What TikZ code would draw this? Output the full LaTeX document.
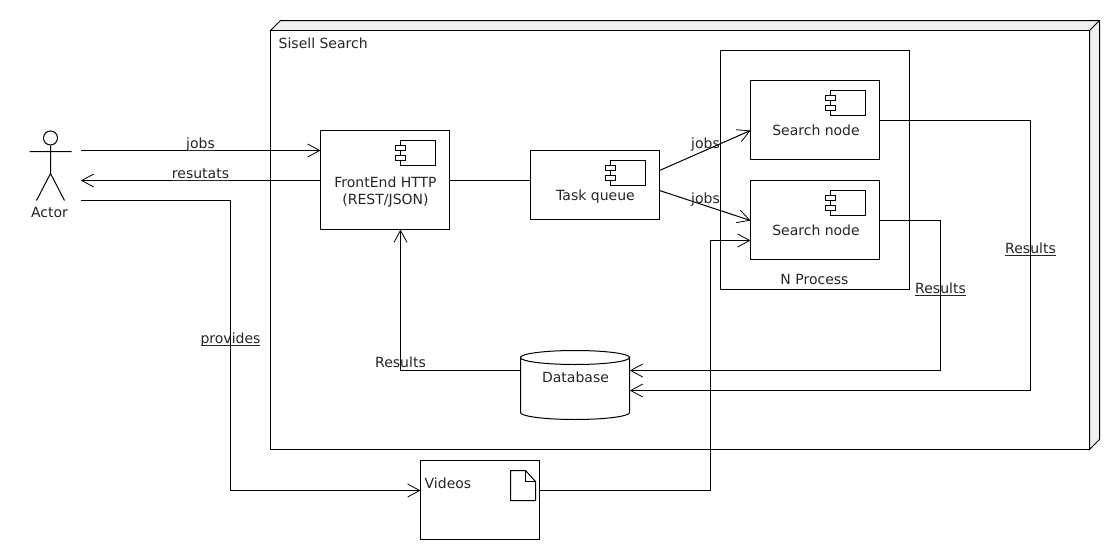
\documentclass[tikz,border=0pt]{standalone}
\usepackage{fontspec}
\setmainfont{DejaVu Sans}
\usetikzlibrary{arrows.meta,calc,shapes.geometric}
\newcommand{\ulbl}[1]{\underline{\smash{#1}}}
\tikzset{
  box/.style={draw=black,fill=white,line width=1pt,anchor=north west,inner sep=0pt,outer sep=0pt},
  txt/.style={inner sep=0pt,font=\fontsize{14}{16.5}\selectfont,align=center,text=black!85},
  wire/.style={draw=black,line width=1pt},
  flow/.style={wire,-{Straight Barb[length=12pt,width=13pt,line width=0.8pt]}},
  component icon/.pic={
    \draw[fill=white,line width=1pt] (-49,10) rectangle (-14,35);
    \draw[fill=white,line width=1pt] (-54,15) rectangle (-44,20);
    \draw[fill=white,line width=1pt] (-54,25) rectangle (-44,30);
  }
}
\begin{document}
\begin{tikzpicture}[x=1pt,y=-1pt,shift={(0.5pt,-0.5pt)}]
\useasboundingbox (-0.5,-0.5) rectangle (1119.5,559.5);
\fill[white] (-0.5,-0.5) rectangle (1119.5,559.5);
% deployment node
\draw[fill=black!6,line width=1pt] (270,30) -- (280,20) -- (1099,20) -- (1099,439) -- (1089,449) -- (1089,30) -- cycle;
\draw[line width=1pt] (1089,30) -- (1099,20);
\node[box,minimum width=819pt,minimum height=419pt] (search) at (270,30) {};
\node[txt,anchor=base west] (searchlabel) at (278,48) {Sisell Search};
% N Process
\node[box,minimum width=189pt,minimum height=239pt] (nproc) at (720,50) {};
\node[txt,anchor=base] (nproclabel) at (814,284) {N Process};
% Components
\node[box,minimum width=129pt,minimum height=99pt] (fe) at (320,130) {};
\pic at (fe.north east) {component icon};
\node[txt] (felabel) at (385,191.5) {FrontEnd HTTP\\(REST/JSON)};
\node[box,minimum width=129pt,minimum height=69pt] (tq) at (530,150) {};
\pic at (tq.north east) {component icon};
\node[txt,anchor=base] (tqlabel) at (595,200) {Task queue};
\node[box,minimum width=129pt,minimum height=79pt] (sa) at (750,80) {};
\pic at (sa.north east) {component icon};
\node[txt,anchor=base] (salabel) at (815.5,135) {Search node};
\node[box,minimum width=129pt,minimum height=79pt] (sb) at (750,180) {};
\pic at (sb.north east) {component icon};
\node[txt,anchor=base] (sblabel) at (815.5,235) {Search node};
% Database
\node[inner sep=0pt,minimum width=109pt,minimum height=69pt,anchor=north west] (db) at (520,350) {};
\draw[fill=white,line width=1pt] (520,357) arc[x radius=54.5,y radius=7,start angle=180,end angle=0] -- (629,412) arc[x radius=54.5,y radius=7,start angle=0,end angle=180] -- cycle;
\draw[line width=1pt] (520,357) arc[x radius=54.5,y radius=7,start angle=180,end angle=360];
\node[txt,anchor=base] (dblabel) at (575,382) {Database};
% Videos
\node[box,minimum width=119pt,minimum height=79pt] (vid) at (420,460) {};
\node[txt,anchor=base west] (vidlabel) at (424,488) {Videos};
\draw[fill=white,line width=1pt] (510,470) -- (525,470) -- (535,481) -- (535,500) -- (510,500) -- cycle;
\draw[line width=1pt] (525,470) -- (525,481) -- (535,481);
% Actor
\node[inner sep=0pt,minimum width=60pt,minimum height=90pt,anchor=north west] (actor) at (20,125) {};
\draw[line width=1pt] (50,137.5) circle[radius=7];
\draw[line width=1pt] (50,145) -- (50,173) (29,151) -- (71,151) (36,200) -- (50,173) -- (64,200);
\node[txt,anchor=base] (actorlabel) at (49,217) {Actor};
% helpers
\coordinate (a1) at (80,150);
\coordinate (a2) at (80,180);
\coordinate (a3) at (80,200);
% connectors
\draw[flow] (actor.east |- a1) -- (fe.west |- a1);
\draw[flow] (fe.west |- a2) -- (actor.east |- a2);
\draw[flow] (actor.east |- a3) -| (230,490) -- (vid.west |- 0,490);
\draw[wire] (fe.east |- a2) -- (tq.west |- a2);
\draw[flow] (tq.east |- 0,170) -- (sa.west |- 0,130);
\draw[flow] (tq.east |- 0,190) -- (sb.west |- 0,220);
\draw[flow] (vid.east |- 0,490) -| (710,240) -- (sb.west |- 0,240);
\draw[flow] (sa.east |- 0,120) -| (1030,390) -- (db.east |- 0,390);
\draw[flow] (sb.east |- 0,220) -| (940,370) -- (db.east |- 0,370);
\draw[flow] (db.west |- 0,370) -| (fe.south -| 400,0);
% labels
\node[txt,anchor=base] (l1) at (200,148) {\ulbl{jobs}};
\node[txt,anchor=base] (l2) at (200,178) {\ulbl{resutats}};
\node[txt,anchor=base] (l3) at (230,343) {\ulbl{provides}};
\node[txt,anchor=base] (l4) at (705,148) {jobs};
\node[txt,anchor=base] (l5) at (705,203) {jobs};
\node[txt,anchor=base] (l6) at (1030,253) {\ulbl{Results}};
\node[txt,anchor=base] (l7) at (940,293) {\ulbl{Results}};
\node[txt,anchor=base] (l8) at (400,367) {Results};
\end{tikzpicture}
\end{document}
